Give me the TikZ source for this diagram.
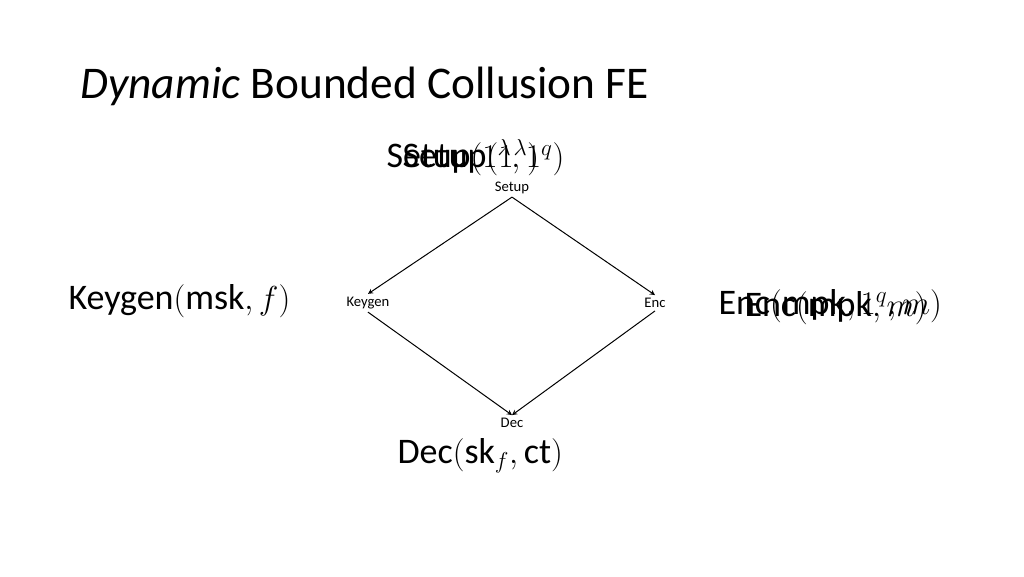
\documentclass[tikz,border=0pt]{standalone}
\usepackage{fontspec}
\setmainfont{Carlito}
\usepackage{amsmath}
\tikzset{every picture/.style={line width=0.75pt}}
\tikzset{
  big/.style={anchor=west, inner sep=0pt, font=\fontsize{27}{31}\selectfont},
  small/.style={inner sep=2pt, font=\fontsize{11}{13}\selectfont},
}
\newcommand{\tx}[1]{\text{#1}}
\begin{document}
\begin{tikzpicture}[x=0.75pt,y=0.75pt,yscale=-1,xscale=1]
\useasboundingbox (0,0) rectangle (1024,576);

\node [anchor=west, inner sep=0pt, font=\fontsize{34}{38}\selectfont] (title) at (80,86) {\textit{Dynamic} Bounded Collusion FE};

\node [small] (setup) at (512,188) {Setup};
\node [small] (keygen) at (368,303) {Keygen};
\node [small] (enc) at (655,303) {Enc};
\node [small] (dec) at (512,423) {Dec};

\draw [-stealth] (setup.south) -- (keygen.north);
\draw [-stealth] (setup.south) -- (enc.north);
\draw [-stealth] (keygen.south) -- (dec.north);
\draw [-stealth] (enc.south) -- (dec.north);

\node [big] (setupA) at (386,158) {$\tx{Setup}(1^\lambda,1^q)$};
\node [big] (setupB) at (402,158) {$\tx{Setup}(1^\lambda)$};
\node [big] (keygenL) at (68,301) {$\tx{Keygen}(\tx{msk},f)$};
\node [big] (encA) at (718,306) {$\tx{Enc}(\tx{mpk},1^q,m)$};
\node [big] (encB) at (744,308) {$\tx{Enc}(\tx{mpk},m)$};
\node [big] (decL) at (397,456) {$\tx{Dec}(\tx{sk}_f,\tx{ct})$};

\end{tikzpicture}
\end{document}
